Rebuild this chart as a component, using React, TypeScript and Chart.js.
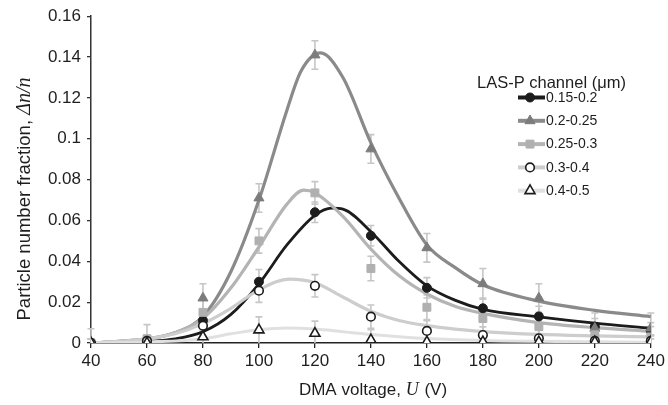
import React, { useEffect, useRef } from 'react';
import { Chart, registerables } from 'chart.js';
Chart.register(...registerables);

// ---- measured points (DMA voltage, V) ----
const voltages = [40, 60, 80, 100, 120, 140, 160, 180, 200, 220, 240];
const seriesLabels = ['0.15-0.2', '0.2-0.25', '0.25-0.3', '0.3-0.4', '0.4-0.5'];
const yTickLabels = ['0', '0.02', '0.04', '0.06', '0.08', '0.1', '0.12', '0.14', '0.16'];

const meas015to02 = [0, 0.001, 0.011, 0.030, 0.064, 0.0525, 0.027, 0.017, 0.013, 0.008, 0.006];
const meas02to025 = [0, 0.001, 0.022, 0.071, 0.141, 0.095, 0.0466, 0.029, 0.022, 0.0072, 0.0073];
const meas025to03 = [0, 0.002, 0.015, 0.050, 0.0735, 0.0365, 0.0175, 0.012, 0.008, 0.004, 0.003];
const meas03to04 = [0, 0.001, 0.0085, 0.0256, 0.028, 0.0129, 0.0059, 0.0039, 0.0023, 0.001, 0.001];
const meas04to05 = [0, 0, 0.003, 0.0064, 0.0047, 0.0015, 0.0005, 0.0005, 0.0005, 0.0005, 0.0005];

const err015to02 = [0.002, 0.003, 0.005, 0.006, 0.005, 0.005, 0.005, 0.005, 0.005, 0.004, 0.004];
const err02to025 = [0.002, 0.003, 0.007, 0.007, 0.007, 0.007, 0.007, 0.0075, 0.007, 0.0075, 0.0074];
const err025to03 = [0.007, 0.007, 0.006, 0.006, 0.0055, 0.006, 0.006, 0.006, 0.006, 0.005, 0.005];
const err03to04 = [0.002, 0.003, 0.005, 0.0057, 0.0055, 0.0057, 0.005, 0.004, 0.004, 0.003, 0.003];
const err04to05 = [0.002, 0.003, 0.004, 0.0064, 0.006, 0.005, 0.004, 0.004, 0.003, 0.003, 0.003];

// ---- fitted curves ----
const fitX015to02 = [40, 50, 60, 70, 80, 90, 100, 110, 120, 126, 130, 140, 150, 160, 170, 180, 200, 220, 240];
const fitY015to02 = [0, 0.0003, 0.0008, 0.002, 0.0055, 0.014, 0.029, 0.048, 0.0625, 0.066, 0.0655, 0.0545, 0.040, 0.028, 0.021, 0.0165, 0.0128, 0.0097, 0.0072];

const fitX02to025 = [40, 50, 60, 70, 80, 90, 100, 110, 115, 122, 130, 140, 150, 160, 170, 180, 200, 220, 240];
const fitY02to025 = [0, 0.0008, 0.002, 0.005, 0.013, 0.035, 0.070, 0.114, 0.133, 0.142, 0.130, 0.098, 0.071, 0.048, 0.037, 0.0285, 0.0205, 0.016, 0.0129];

const fitX025to03 = [40, 50, 60, 70, 80, 90, 100, 110, 116, 120, 130, 140, 150, 160, 170, 180, 200, 220, 240];
const fitY025to03 = [0, 0.0008, 0.002, 0.005, 0.012, 0.027, 0.047, 0.068, 0.0748, 0.0735, 0.062, 0.046, 0.033, 0.024, 0.018, 0.0145, 0.010, 0.0075, 0.0057];

const fitX03to04 = [40, 50, 60, 70, 80, 90, 100, 111, 120, 130, 140, 150, 160, 170, 180, 200, 220, 240];
const fitY03to04 = [0, 0.0008, 0.002, 0.0045, 0.0095, 0.017, 0.026, 0.0313, 0.0295, 0.0225, 0.0155, 0.011, 0.0085, 0.0068, 0.0056, 0.0042, 0.0035, 0.003];

const fitX04to05 = [40, 60, 80, 90, 100, 110, 120, 130, 140, 160, 180, 200, 240];
const fitY04to05 = [0, 0.0005, 0.002, 0.0045, 0.0065, 0.0073, 0.0068, 0.0055, 0.0042, 0.0022, 0.0012, 0.0008, 0.0004];

const lineColors = ['#1c1c1c', '#8a8a8a', '#b4b4b4', '#cdcdcd', '#e0e0e0'];
const markerFill = ['#1c1c1c', '#7c7c7c', '#b0b0b0', '#ffffff', '#ffffff'];
const markerStroke = ['#1c1c1c', '#7c7c7c', '#b0b0b0', '#1c1c1c', '#1c1c1c'];
const markerStyle = ['circle', 'triangle', 'rect', 'circle', 'triangle'];
const markerRadius = [4.5, 5.8, 5.6, 4.3, 5.8];
const lineWidths = [2.8, 3.2, 3.2, 3.2, 3.0];

const measAll = [meas015to02, meas02to025, meas025to03, meas03to04, meas04to05];
const errAll = [err015to02, err02to025, err025to03, err03to04, err04to05];
const fitXAll = [fitX015to02, fitX02to025, fitX025to03, fitX03to04, fitX04to05];
const fitYAll = [fitY015to02, fitY02to025, fitY025to03, fitY03to04, fitY04to05];

const SANS = '"Liberation Sans", Arial, sans-serif';
const SERIF = '"Liberation Serif", "Times New Roman", serif';

function drawMarker(ctx: CanvasRenderingContext2D, i: number, x: number, y: number) {
  const r = markerRadius[i];
  ctx.save();
  ctx.fillStyle = markerFill[i];
  ctx.strokeStyle = markerStroke[i];
  ctx.lineWidth = i >= 3 ? 1.6 : 1;
  ctx.beginPath();
  if (markerStyle[i] === 'circle') {
    ctx.arc(x, y, r, 0, Math.PI * 2);
  } else if (markerStyle[i] === 'triangle') {
    for (let k = 0; k < 3; k++) {
      const a = (k * 2 * Math.PI) / 3;
      const px = x + Math.sin(a) * r;
      const py = y - Math.cos(a) * r;
      if (k === 0) ctx.moveTo(px, py);
      else ctx.lineTo(px, py);
    }
    ctx.closePath();
  } else {
    const s = r * Math.SQRT1_2;
    ctx.rect(x - s, y - s, 2 * s, 2 * s);
  }
  ctx.fill();
  ctx.stroke();
  ctx.restore();
}

const errorBarPlugin = {
  id: 'errorBars',
  beforeDatasetsDraw(chart: any) {
    const { ctx, scales } = chart;
    const xs = scales.x;
    const ys = scales.y;
    ctx.save();
    ctx.strokeStyle = '#c6c6c6';
    ctx.lineWidth = 1.6;
    measAll.forEach((vals, i) => {
      vals.forEach((v, j) => {
        const e = errAll[i][j];
        const px = xs.getPixelForValue(voltages[j]);
        const top = ys.getPixelForValue(v + e);
        const bot = ys.getPixelForValue(Math.max(v - e, 0));
        ctx.beginPath();
        ctx.moveTo(px, top);
        ctx.lineTo(px, bot);
        ctx.moveTo(px - 3.5, top);
        ctx.lineTo(px + 3.5, top);
        if (v - e > 0) {
          ctx.moveTo(px - 3.5, bot);
          ctx.lineTo(px + 3.5, bot);
        }
        ctx.stroke();
      });
    });
    ctx.restore();
  },
};

const textPlugin = {
  id: 'texts',
  afterDraw(chart: any) {
    const ctx: CanvasRenderingContext2D = chart.ctx;
    ctx.save();
    ctx.fillStyle = '#1e1e1e';
    // x-axis title
    {
      const f1 = `17px ${SANS}`;
      const f2 = `italic 18px ${SERIF}`;
      const p1 = 'DMA voltage, ';
      const p2 = 'U';
      const p3 = ' (V)';
      ctx.font = f1;
      const w1 = ctx.measureText(p1).width;
      const w3 = ctx.measureText(p3).width;
      ctx.font = f2;
      const w2 = ctx.measureText(p2).width + 1;
      const total = w1 + w2 + w3;
      let x = 373 - total / 2;
      const y = 395;
      ctx.textBaseline = 'alphabetic';
      ctx.textAlign = 'left';
      ctx.font = f1;
      ctx.fillText(p1, x, y);
      x += w1;
      ctx.font = f2;
      ctx.fillText(p2, x, y);
      x += w2;
      ctx.font = f1;
      ctx.fillText(p3, x, y);
    }
    // y-axis title
    {
      const f1 = `18.5px ${SANS}`;
      const f2 = `italic 20px ${SERIF}`;
      const p1 = 'Particle number fraction, ';
      const p2 = 'Δn/n';
      ctx.font = f1;
      const w1 = ctx.measureText(p1).width;
      ctx.font = f2;
      const w2 = ctx.measureText(p2).width;
      const total = w1 + w2;
      ctx.translate(30, 199);
      ctx.rotate(-Math.PI / 2);
      ctx.textBaseline = 'alphabetic';
      ctx.textAlign = 'left';
      ctx.font = f1;
      ctx.fillText(p1, -total / 2, 0);
      ctx.font = f2;
      ctx.fillText(p2, -total / 2 + w1, 0);
      ctx.setTransform(1, 0, 0, 1, 0, 0);
    }
    // legend
    {
      ctx.font = `16.5px ${SANS}`;
      ctx.textBaseline = 'alphabetic';
      ctx.textAlign = 'left';
      ctx.fillText('LAS-P channel (μm)', 477, 88);
      seriesLabels.forEach((lab, i) => {
        const y = 97.5 + i * 23.3;
        ctx.strokeStyle = lineColors[i];
        ctx.lineWidth = 4;
        ctx.beginPath();
        ctx.moveTo(518, y);
        ctx.lineTo(545, y);
        ctx.stroke();
        drawMarker(ctx, i, 530, y);
        ctx.fillStyle = '#1e1e1e';
        ctx.font = `14px ${SANS}`;
        ctx.textBaseline = 'middle';
        ctx.fillText(lab, 546, y + 0.5);
      });
    }
    ctx.restore();
  },
};

export default function App() {
  const ref = useRef<HTMLCanvasElement>(null);
  useEffect(() => {
    const canvas = ref.current!;
    const datasets: any[] = [];
    measAll.forEach((vals, i) => {
      datasets.push({
        type: 'line',
        label: seriesLabels[i],
        data: voltages.map((x, j) => ({ x, y: vals[j] })),
        showLine: false,
        pointStyle: markerStyle[i],
        pointRadius: markerRadius[i],
        pointBackgroundColor: markerFill[i],
        pointBorderColor: markerStroke[i],
        pointBorderWidth: i >= 3 ? 1.6 : 1,
        order: 4 - i,
      });
    });
    fitXAll.forEach((xs, i) => {
      datasets.push({
        type: 'line',
        label: 'fit ' + seriesLabels[i],
        data: xs.map((x, j) => ({ x, y: fitYAll[i][j] })),
        borderColor: lineColors[i],
        borderWidth: lineWidths[i],
        pointRadius: 0,
        cubicInterpolationMode: 'monotone',
        fill: false,
        order: 20 - i,
      });
    });
    const chart = new Chart(canvas, {
      type: 'line',
      data: { datasets },
      options: {
        animation: false,
        responsive: false,
        events: [],
        layout: { padding: { top: 16, right: 16, left: 0, bottom: 0 } },
        plugins: { legend: { display: false }, tooltip: { enabled: false } },
        scales: {
          x: {
            type: 'linear',
            min: 40,
            max: 240,
            afterFit: (s: any) => { s.height = 62; },
            ticks: { stepSize: 20, color: '#1e1e1e', font: { family: SANS, size: 17 }, padding: 3, maxRotation: 0 },
            grid: { display: true, drawOnChartArea: false, drawTicks: true, tickLength: 5, color: '#222', lineWidth: 1.3 },
            border: { display: true, color: '#222', width: 1.5 },
          },
          y: {
            type: 'linear',
            min: 0,
            max: 0.16,
            afterFit: (s: any) => { s.width = 91; },
            ticks: {
              stepSize: 0.02,
              color: '#1e1e1e',
              font: { family: SANS, size: 17 },
              padding: 6,
              callback: (_v: any, idx: number) => yTickLabels[idx],
            },
            grid: { display: true, drawOnChartArea: false, drawTicks: true, tickLength: 4, color: '#333', lineWidth: 1.3 },
            border: { display: true, color: '#333', width: 1.5 },
          },
        },
      },
      plugins: [errorBarPlugin, textPlugin],
    } as any);
    return () => chart.destroy();
  }, []);
  return (
    <div style={{ position: 'fixed', left: 0, top: 0, width: 668, height: 405, background: '#fff' }}>
      <canvas ref={ref} width={668} height={405} style={{ display: 'block' }} />
    </div>
  );
}
